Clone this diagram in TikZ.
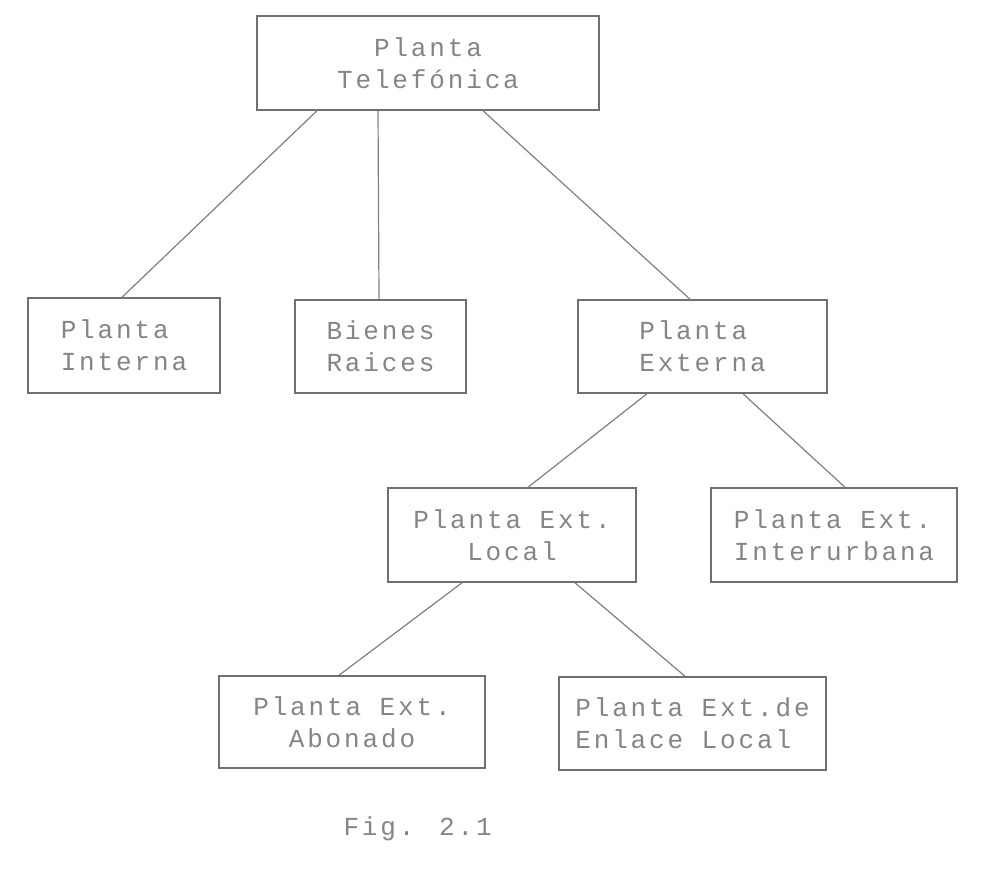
\documentclass[tikz,border=0pt]{standalone}
\usepackage{fontspec}
\newfontfamily\dotmono[LetterSpace=11]{Liberation Mono}
\definecolor{inkline}{HTML}{808080}
\definecolor{inkbox}{HTML}{707070}
\definecolor{inktext}{HTML}{858585}
\begin{document}
\begin{tikzpicture}[x=1pt,y=-1pt,
  orgbox/.style={draw=inkbox,line width=1.5pt,rectangle,inner sep=0pt,
    text=inktext,font=\dotmono\fontsize{26}{32}\selectfont},
  link/.style={draw=inkline,line width=1.2pt}]
\useasboundingbox[fill=white] (0,0) rectangle (981,871);
\node[orgbox,align=center,minimum width=342pt,minimum height=94pt] (top) at (428,63) {Planta\\Telefónica};
\node[orgbox,align=left,minimum width=192pt,minimum height=95pt] (interna) at (124,345.5) {Planta\\Interna};
\node[orgbox,align=left,minimum width=171pt,minimum height=93pt] (bienes) at (380.5,346.5) {Bienes\\Raices};
\node[orgbox,align=left,minimum width=249pt,minimum height=93pt] (externa) at (702.5,346.5) {Planta\\Externa};
\node[orgbox,align=center,minimum width=248pt,minimum height=94pt] (local) at (512,535) {Planta Ext.\\Local};
\node[orgbox,align=left,minimum width=246pt,minimum height=94pt] (inter) at (834,535) {Planta Ext.\\Interurbana};
\node[orgbox,align=center,minimum width=266pt,minimum height=92pt] (abonado) at (352,722) {Planta Ext.\\Abonado};
\node[orgbox,align=left,minimum width=267pt,minimum height=93pt] (enlace) at (692.5,723.5) {Planta Ext.de\\Enlace Local};
\node[text=inktext,font=\dotmono\fontsize{26}{32}\selectfont,anchor=west] (fig) at (340,829) {Fig. 2.1};
\draw[link] ([xshift=-111pt]top.south) -- ([xshift=-2pt]interna.north);
\draw[link] ([xshift=-50pt]top.south) -- ([xshift=-1.5pt]bienes.north);
\draw[link] ([xshift=55pt]top.south) -- ([xshift=-12.5pt]externa.north);
\draw[link] ([xshift=-55.5pt]externa.south) -- ([xshift=16pt]local.north);
\draw[link] ([xshift=40.5pt]externa.south) -- ([xshift=11pt]inter.north);
\draw[link] ([xshift=-50pt]local.south) -- ([xshift=-13pt]abonado.north);
\draw[link] ([xshift=63pt]local.south) -- ([xshift=-7.5pt]enlace.north);
\end{tikzpicture}
\end{document}
